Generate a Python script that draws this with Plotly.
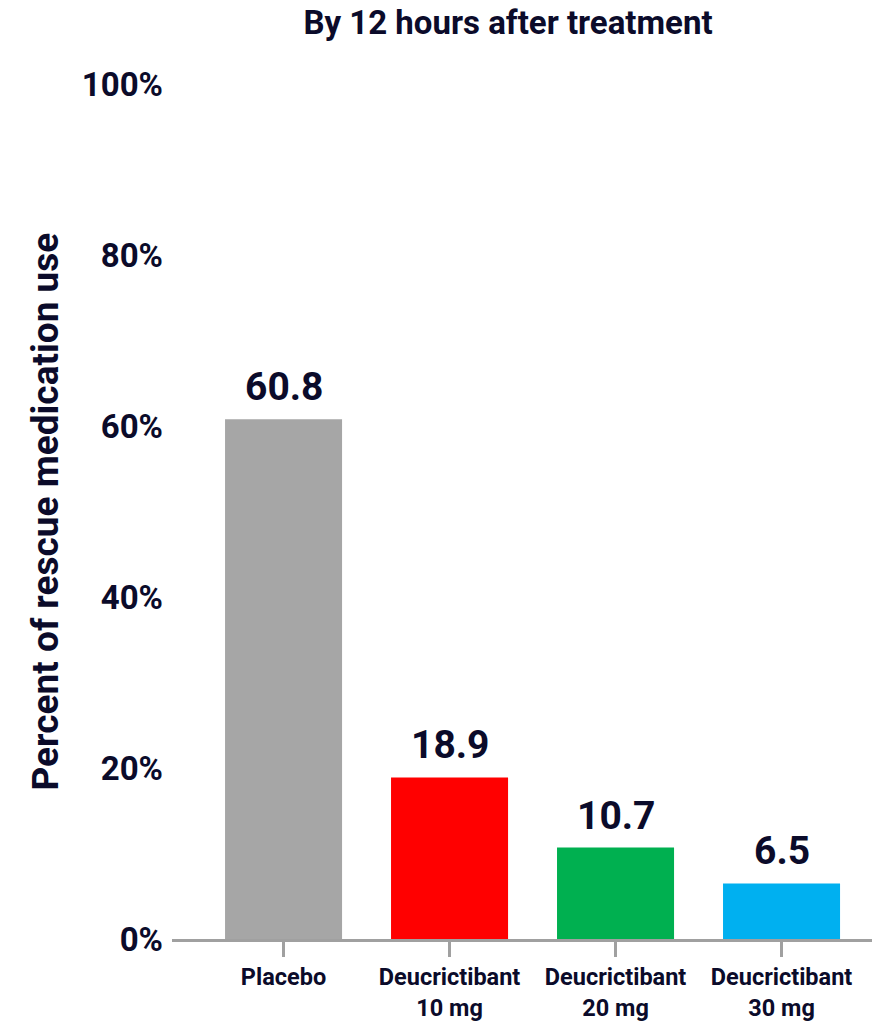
import plotly.graph_objects as go

# Rescue medication use by 12 hours after treatment
categories = ["Placebo", "Deucrictibant<br>10 mg", "Deucrictibant<br>20 mg", "Deucrictibant<br>30 mg"]
values = [60.8, 18.9, 10.7, 6.5]
bar_colors = ["#A6A6A6", "#FF0000", "#00B050", "#00B0F0"]
y_ticks = [0, 20, 40, 60, 80, 100]
y_tick_labels = ["0%", "20%", "40%", "60%", "80%", "100%"]

INK = "#0B0B2A"
FONT = "Roboto"
AXIS_GRAY = "#A0A0A0"

W, H = 872, 1021
ML, MR, MT, MB = 172, 0, 84, 82

fig = go.Figure()
fig.add_trace(go.Bar(
    x=categories,
    y=values,
    marker=dict(color=bar_colors, line=dict(width=0)),
    width=0.705,
    hoverinfo="skip",
))

# value labels above each bar
for c, v in zip(categories, values):
    fig.add_annotation(
        x=c, y=v, xref="x", yref="y",
        text=f"{v:.1f}", showarrow=False,
        yanchor="bottom", yshift=7,
        font=dict(family=FONT, size=39, color=INK, weight="bold"),
    )

# y-axis title
fig.add_annotation(
    x=(45 - ML) / (W - ML - MR), y=0.5, xref="paper", yref="paper",
    text="Percent of rescue medication use", textangle=-90,
    showarrow=False, xanchor="center", yanchor="middle",
    font=dict(family=FONT, size=37, color=INK, weight="bold"),
)

fig.update_layout(
    width=W, height=H,
    margin=dict(l=ML, r=MR, t=MT, b=MB, autoexpand=False),
    paper_bgcolor="white", plot_bgcolor="white",
    showlegend=False,
    title=dict(
        text="By 12 hours after treatment",
        x=508 / W, xref="container", xanchor="center",
        y=1 - 22 / H, yref="container", yanchor="middle",
        font=dict(family=FONT, size=33, color=INK, weight="bold"),
    ),
    xaxis=dict(
        type="category",
        range=[-0.672, 3.545],
        showline=True, linecolor=AXIS_GRAY, linewidth=3,
        ticks="outside", ticklen=15, tickwidth=3, tickcolor=AXIS_GRAY,
        tickfont=dict(family=FONT, size=23.5, color=INK, weight="bold"),
        showgrid=False, zeroline=False, fixedrange=True,
    ),
    yaxis=dict(
        range=[0, 100],
        tickvals=y_ticks, ticktext=y_tick_labels,
        showline=False, showgrid=False, zeroline=False, ticks="",
        ticklabelstandoff=8,
        tickfont=dict(family=FONT, size=33, color=INK, weight="bold"),
        fixedrange=True,
    ),
)

fig.write_html("out.html")
